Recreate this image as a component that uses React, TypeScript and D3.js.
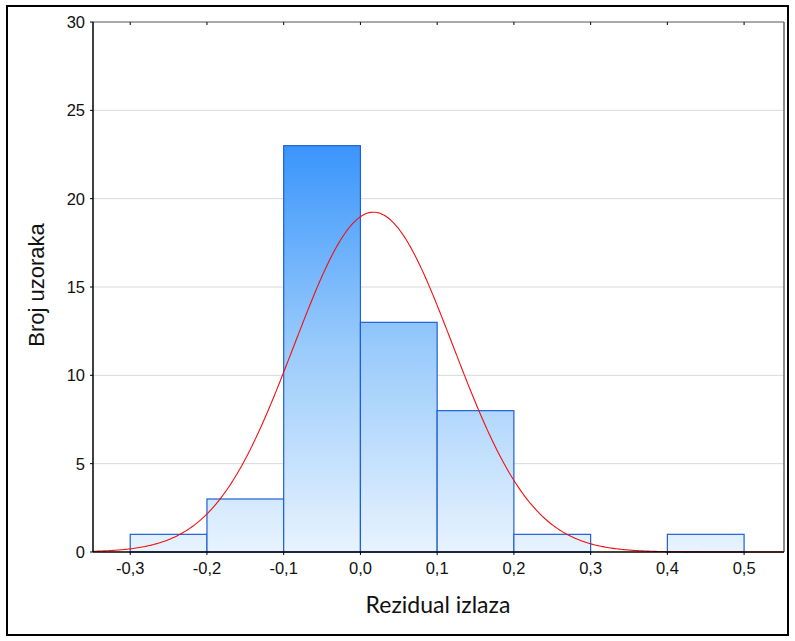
import * as React from "react";
import * as d3 from "d3";

// histogram bins (lower edge) and counts
const binStarts = [-0.3, -0.2, -0.1, 0.0, 0.1, 0.2, 0.3, 0.4];
const counts = [1, 3, 23, 13, 8, 1, 0, 1];
const binWidth = 0.1;
const xTicks = [-0.3, -0.2, -0.1, 0.0, 0.1, 0.2, 0.3, 0.4, 0.5];
const yTicks = [0, 5, 10, 15, 20, 25, 30];
// fitted normal curve
const fitMean = 0.017;
const fitSd = 0.1037;

const W = 795;
const H = 641;

const App: React.FC = () => {
  const left = 93;
  const right = 784;
  const top = 22;
  const bottom = 552;

  const x = d3.scaleLinear().domain([-0.3485, 0.552]).range([left, right]);
  const y = d3.scaleLinear().domain([0, 30]).range([bottom, top]);

  const total = d3.sum(counts);
  const pdf = (v: number) =>
    (total * binWidth) / (fitSd * Math.sqrt(2 * Math.PI)) *
    Math.exp(-0.5 * ((v - fitMean) / fitSd) ** 2);
  const curvePts = d3.range(-0.3485, 0.552, 0.002).map(v => [v, pdf(v)] as [number, number]);
  const line = d3.line<[number, number]>().x(d => x(d[0])).y(d => y(d[1]));

  const fmt = (v: number) => d3.format(".1f")(v).replace(".", ",").replace("−", "-");
  const sans = "'Liberation Sans', Arial, sans-serif";

  return (
    <svg width={W} height={H} style={{ position: "absolute", left: 0, top: 0 }}>
      <defs>
        <linearGradient id="barGrad" gradientUnits="userSpaceOnUse" x1="0" y1={y(0)} x2="0" y2={y(23)}>
          <stop offset="0" stopColor="#e8f3fe" />
          <stop offset="0.5" stopColor="#9acbfb" />
          <stop offset="1" stopColor="#3a95fc" />
        </linearGradient>
      </defs>
      <rect x={0} y={0} width={W} height={H} fill="#fff" />
      <rect x={7} y={6} width={781} height={629} fill="none" stroke="#000" strokeWidth={2} />

      {/* grid */}
      {yTicks.filter(t => t > 0 && t < 30).map(t => (
        <line key={t} x1={left} x2={right} y1={y(t)} y2={y(t)} stroke="#d9d9d9" strokeWidth={1} />
      ))}

      {/* bars */}
      {binStarts.map((b, i) =>
        counts[i] > 0 ? (
          <rect
            key={i}
            x={x(b)}
            y={y(counts[i])}
            width={x(b + binWidth) - x(b)}
            height={y(0) - y(counts[i])}
            fill="url(#barGrad)"
            stroke="#1f5fd6"
            strokeWidth={1.2}
          />
        ) : null
      )}

      {/* normal curve */}
      <path d={line(curvePts) || ""} fill="none" stroke="#f01010" strokeWidth={1.1} />

      {/* frame */}
      <line x1={left} x2={right} y1={top} y2={top} stroke="#555" strokeWidth={1} />
      <line x1={right} x2={right} y1={top} y2={bottom} stroke="#666" strokeWidth={1.5} />
      <line x1={left} x2={left} y1={top} y2={bottom} stroke="#000" strokeWidth={1.5} />
      <line x1={left} x2={right} y1={bottom} y2={bottom} stroke="#000" strokeWidth={1.5} />

      {/* x ticks */}
      {xTicks.map(t => (
        <g key={t}>
          <line x1={x(t)} x2={x(t)} y1={bottom} y2={bottom + 3} stroke="#000" />
          <line x1={x(t)} x2={x(t)} y1={top} y2={top + 3} stroke="#000" />
          <text
            x={x(t)}
            y={bottom + 22}
            textAnchor="middle"
            fontFamily={sans}
            fontSize={16.5}
            fill="#111"
          >
            {fmt(t)}
          </text>
        </g>
      ))}

      {/* y ticks */}
      {yTicks.map(t => (
        <g key={t}>
          <line x1={left - 3} x2={left} y1={y(t)} y2={y(t)} stroke="#000" />
          <text
            x={left - 8}
            y={y(t) + 6}
            textAnchor="end"
            fontFamily={sans}
            fontSize={16.5}
            fill="#111"
          >
            {t}
          </text>
        </g>
      ))}

      {/* axis titles */}
      <text
        x={438}
        y={613}
        textAnchor="middle"
        fontFamily="Lato, Carlito, sans-serif"
        fontSize={23}
        fill="#111"
      >
        Rezidual izlaza
      </text>
      <text
        transform={`translate(44, 285) rotate(-90)`}
        textAnchor="middle"
        fontFamily={sans}
        fontSize={22}
        fill="#111"
      >
        Broj uzoraka
      </text>
    </svg>
  );
};

export default App;
